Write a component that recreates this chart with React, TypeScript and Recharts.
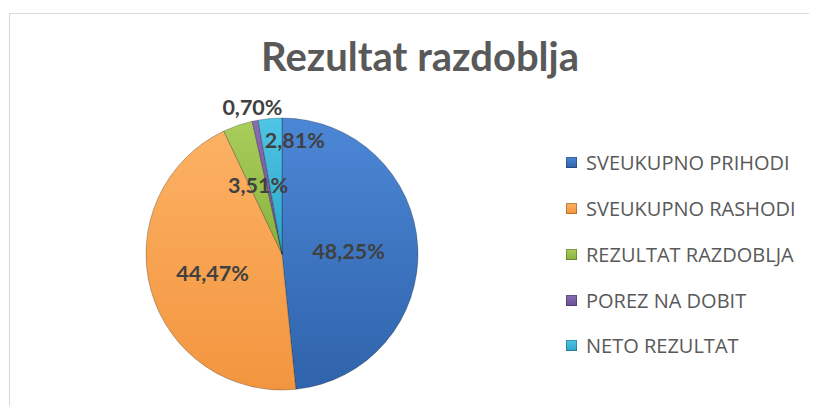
import React from 'react';
import { PieChart, Pie, Cell, Legend } from 'recharts';

const CATEGORIES = ['SVEUKUPNO PRIHODI', 'SVEUKUPNO RASHODI', 'REZULTAT RAZDOBLJA', 'POREZ NA DOBIT', 'NETO REZULTAT'];
const SHARES = [48.25, 44.47, 3.51, 0.70, 2.81];
const LABELS = ['48,25%', '44,47%', '3,51%', '0,70%', '2,81%'];

const TOP = ['#4c87d6', '#fcb163', '#aacd5c', '#8a6cb3', '#4fc6e6'];
const BOTTOM = ['#2f63ab', '#f3953f', '#88b13c', '#6a4f93', '#2ea3c6'];

// radial position of each label (fraction of radius) plus a small sideways nudge
const LABEL_R = [0.49, 0.53, 0.54, 1.1, 0.84];
const LABEL_DX = [0, 0, 0, 0, 23];

const data = CATEGORIES.map((name, i) => ({ name, value: SHARES[i], label: LABELS[i] }));

const RAD = Math.PI / 180;

function renderLabel(props: any) {
  const { cx, cy, midAngle, outerRadius, index } = props;
  const r = outerRadius * LABEL_R[index];
  const x = cx + r * Math.cos(-midAngle * RAD) + LABEL_DX[index];
  const y = cy + r * Math.sin(-midAngle * RAD);
  return (
    <text
      x={x}
      y={y}
      textAnchor="middle"
      dominantBaseline="central"
      fill="#404040"
      fontFamily="Lato, sans-serif"
      fontWeight={700}
      fontSize={21.5}
    >
      {data[index].label}
    </text>
  );
}

function LegendBox() {
  return (
    <div style={{ fontFamily: '"Open Sans", sans-serif' }}>
      {data.map((d, i) => (
        <div key={d.name} style={{ display: 'flex', alignItems: 'center', height: 45.75 }}>
          <span
            style={{
              width: 11,
              height: 11,
              marginRight: 9,
              background: `linear-gradient(${TOP[i]}, ${BOTTOM[i]})`,
              boxShadow: 'inset 0 0 0 1px rgba(0,0,0,0.25)',
            }}
          />
          <span style={{ fontSize: 20, color: '#595959', whiteSpace: 'nowrap' }}>{d.name}</span>
        </div>
      ))}
    </div>
  );
}

export default function App() {
  return (
    <div style={{ position: 'relative', width: 817, height: 414, margin: -8, background: '#fff', overflow: 'hidden' }}>
      <div style={{ position: 'absolute', left: 9, top: 13, right: -2, bottom: -2, borderLeft: '1px solid #d9d9d9', borderTop: '1px solid #d9d9d9' }} />
      <div
        style={{
          position: 'absolute',
          left: 0,
          width: 840,
          top: 32,
          textAlign: 'center',
          fontFamily: 'Lato, sans-serif',
          fontWeight: 700,
          fontSize: 40,
          color: '#595959',
        }}
      >
        Rezultat razdoblja
      </div>
      <PieChart width={817} height={414} margin={{ top: 0, right: 0, bottom: 0, left: 0 }} style={{ position: 'absolute', left: 0, top: 0 }}>
        <defs>
          {data.map((_, i) => (
            <linearGradient key={i} id={`g${i}`} x1="0" y1="0" x2="0" y2="1">
              <stop offset="0%" stopColor={TOP[i]} />
              <stop offset="100%" stopColor={BOTTOM[i]} />
            </linearGradient>
          ))}
        </defs>
        <Pie
          data={data}
          dataKey="value"
          cx={282}
          cy={254}
          outerRadius={136}
          startAngle={90}
          endAngle={-270}
          stroke="rgba(0,0,0,0.25)"
          strokeWidth={1}
          label={renderLabel}
          labelLine={false}
          isAnimationActive={false}
        >
          {data.map((_, i) => (
            <Cell key={i} fill={`url(#g${i})`} />
          ))}
        </Pie>
        <Legend
          layout="vertical"
          align="right"
          verticalAlign="top"
          wrapperStyle={{ left: 566, top: 140, width: 250 }}
          content={() => <LegendBox />}
        />
      </PieChart>
    </div>
  );
}
